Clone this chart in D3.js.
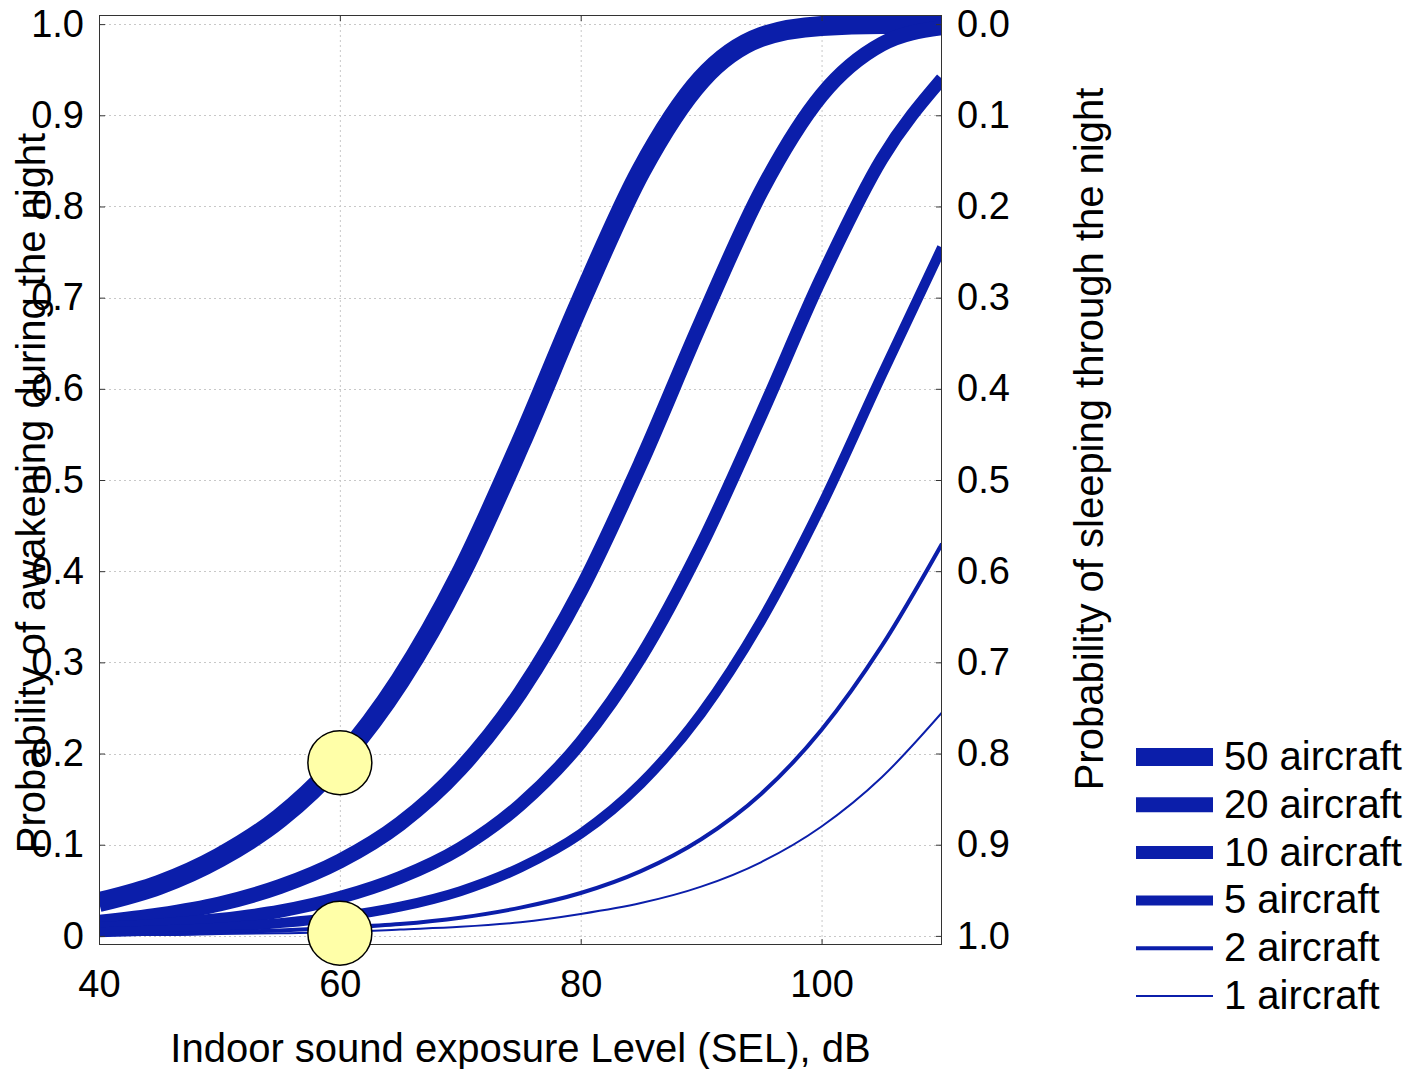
<!DOCTYPE html>
<html>
<head>
<meta charset="utf-8">
<script src="https://cdn.jsdelivr.net/npm/d3@7"></script>
<style>
  body { margin: 0; background: #fff; }
  text { font-family: "Liberation Sans", Arial, sans-serif; fill: #000; }
</style>
</head>
<body>
<script>
// Chart values

let sel = [40, 45, 50, 55, 60, 65, 70, 75, 80, 85, 90, 95, 100, 105, 110]

let p50 = [0.037, 0.056, 0.086, 0.129, 0.192, 0.280, 0.396, 0.540, 0.696, 0.839, 0.939, 0.986, 0.998, 1.000, 1.000]
let p20 = [0.015, 0.023, 0.035, 0.054, 0.082, 0.123, 0.183, 0.267, 0.379, 0.519, 0.673, 0.817, 0.922, 0.978, 0.996]
let p10 = [0.008, 0.012, 0.018, 0.027, 0.042, 0.064, 0.096, 0.144, 0.212, 0.306, 0.428, 0.572, 0.722, 0.852, 0.940]
let p5  = [0.004, 0.006, 0.009, 0.014, 0.021, 0.032, 0.049, 0.075, 0.112, 0.167, 0.244, 0.346, 0.472, 0.615, 0.755]
let p2  = [0.002, 0.002, 0.004, 0.006, 0.009, 0.013, 0.020, 0.031, 0.047, 0.071, 0.106, 0.156, 0.226, 0.318, 0.430]
let p1  = [0.001, 0.001, 0.002, 0.003, 0.004, 0.007, 0.010, 0.015, 0.024, 0.036, 0.054, 0.081, 0.120, 0.174, 0.245]

let seriesNames = ['50 aircraft', '20 aircraft', '10 aircraft', '5 aircraft', '2 aircraft', '1 aircraft']
let seriesValues = [p50, p20, p10, p5, p2, p1]

// highlighted points (SEL, probability)
let markerX = [60, 60]
let markerY = [0.19, 0.003]

let xTicks = [40, 60, 80, 100]
let yTicks = [0, 0.1, 0.2, 0.3, 0.4, 0.5, 0.6, 0.7, 0.8, 0.9, 1.0]
let leftLabels = ['0', '0.1', '0.2', '0.3', '0.4', '0.5', '0.6', '0.7', '0.8', '0.9', '1.0']
let rightLabels = ['1.0', '0.9', '0.8', '0.7', '0.6', '0.5', '0.4', '0.3', '0.2', '0.1', '0.0']

// Container sizing

let width = 1416
let height = 1069

let plot = { left: 99, top: 15, right: 942, bottom: 945 }

let blue = '#0b1eaa'
let lineWidths = [20, 15, 13, 10, 4, 2]

let svg = d3.select('body')
    .append('svg')
    .attr('width', width)
    .attr('height', height)

let xScale = d3.scaleLinear()
    .domain([40, 110])
    .range([plot.left, plot.right])

let yScale = d3.scaleLinear()
    .domain([-0.01, 1.01])
    .range([plot.bottom, plot.top])

// Grid lines

let grid = svg.append('g')
    .attr('stroke', '#c8c8c8')
    .attr('stroke-width', 1)
    .attr('stroke-dasharray', '2,3')

grid.selectAll('.vgrid')
    .data(xTicks.slice(1))
    .join('line')
    .attr('x1', d => xScale(d) + 0.5)
    .attr('x2', d => xScale(d) + 0.5)
    .attr('y1', plot.top)
    .attr('y2', plot.bottom)

grid.selectAll('.hgrid')
    .data(yTicks)
    .join('line')
    .attr('class', 'hgrid')
    .attr('x1', plot.left)
    .attr('x2', plot.right)
    .attr('y1', d => Math.round(yScale(d)) + 0.5)
    .attr('y2', d => Math.round(yScale(d)) + 0.5)

// Curves, clipped to the plot frame

svg.append('clipPath')
    .attr('id', 'plotClip')
    .append('rect')
    .attr('x', plot.left)
    .attr('y', plot.top)
    .attr('width', plot.right - plot.left)
    .attr('height', plot.bottom - plot.top)

let line = d3.line()
    .x((d, i) => xScale(sel[i]))
    .y(d => yScale(d))
    .curve(d3.curveMonotoneX)

svg.append('g')
    .attr('clip-path', 'url(#plotClip)')
    .selectAll('path')
    .data(seriesValues)
    .join('path')
    .attr('d', d => line(d))
    .attr('fill', 'none')
    .attr('stroke', blue)
    .attr('stroke-width', (d, i) => lineWidths[i])
    .attr('stroke-linejoin', 'round')

// Axes (inward ticks on all four sides)

function styleAxis(g) {
    g.select('.domain').remove()
    g.selectAll('.tick line').attr('stroke', '#333')
    g.selectAll('text').attr('font-family', '"Liberation Sans", Arial, sans-serif').attr('font-size', 38).attr('fill', '#000')
}

svg.append('g')
    .attr('transform', `translate(${plot.left}, 0)`)
    .call(d3.axisLeft(yScale).tickValues(yTicks).tickSize(-6).tickPadding(15)
        .tickFormat((d, i) => leftLabels[i]))
    .call(styleAxis)

let yRight = d3.scaleLinear()
    .domain([-0.01, 1.01])
    .range([plot.bottom, plot.top])

svg.append('g')
    .attr('transform', `translate(${plot.right}, 0)`)
    .call(d3.axisRight(yRight).tickValues(yTicks).tickSize(-6).tickPadding(15)
        .tickFormat((d, i) => rightLabels[i]))
    .call(styleAxis)

svg.append('g')
    .attr('transform', `translate(0, ${plot.bottom})`)
    .call(d3.axisBottom(xScale).tickValues(xTicks).tickSize(-6).tickPadding(25))
    .call(styleAxis)

svg.append('g')
    .attr('transform', `translate(0, ${plot.top})`)
    .call(d3.axisTop(xScale).tickValues(xTicks).tickSize(-6).tickFormat(''))
    .call(styleAxis)

// Frame

svg.append('rect')
    .attr('x', plot.left + 0.5)
    .attr('y', plot.top + 0.5)
    .attr('width', plot.right - plot.left - 1)
    .attr('height', plot.bottom - plot.top - 1)
    .attr('fill', 'none')
    .attr('stroke', '#333')
    .attr('stroke-width', 1)

// Highlight markers

svg.selectAll('.marker')
    .data(markerX)
    .join('circle')
    .attr('class', 'marker')
    .attr('cx', d => xScale(d))
    .attr('cy', (d, i) => yScale(markerY[i]))
    .attr('r', 32)
    .attr('fill', '#ffffa8')
    .attr('stroke', '#000')
    .attr('stroke-width', 1.5)

// Axis titles

svg.append('text')
    .attr('x', (plot.left + plot.right) / 2)
    .attr('y', 1062)
    .attr('text-anchor', 'middle')
    .attr('font-size', 40)
    .text('Indoor sound exposure Level (SEL), dB')

svg.append('text')
    .attr('transform', 'translate(45, 493) rotate(-90)')
    .attr('text-anchor', 'middle')
    .attr('font-size', 40)
    .text('Probability of awakening during the night')

svg.append('text')
    .attr('transform', 'translate(1103, 439) rotate(-90)')
    .attr('text-anchor', 'middle')
    .attr('font-size', 40)
    .text('Probability of sleeping through the night')

// Legend

let legend = svg.append('g')
    .selectAll('g')
    .data(seriesNames)
    .join('g')
    .attr('transform', (d, i) => `translate(1136, ${757 + i * 47.8})`)

legend.append('line')
    .attr('x1', 0)
    .attr('x2', 77)
    .attr('stroke', blue)
    .attr('stroke-width', (d, i) => Math.min(lineWidths[i], 18))

legend.append('text')
    .attr('x', 88)
    .attr('y', 13)
    .attr('font-size', 40)
    .text(d => d)
</script>
</body>
</html>
